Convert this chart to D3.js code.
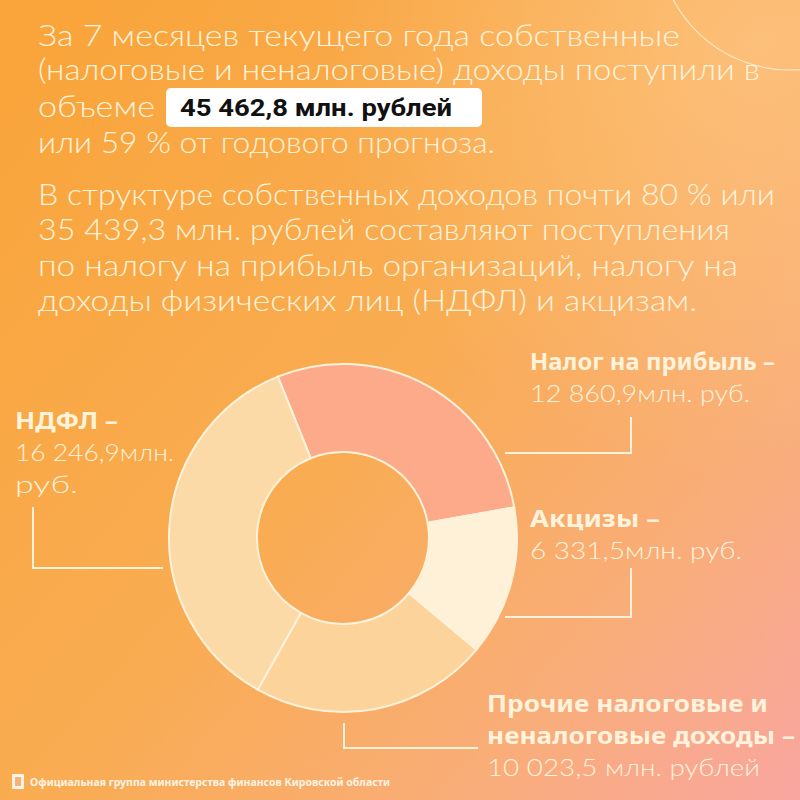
<!DOCTYPE html>
<html>
<head>
<meta charset="utf-8">
<script src="https://cdn.jsdelivr.net/npm/d3@7"></script>
<style>
  html, body { margin: 0; padding: 0; background: #f9a845; }
  svg { display: block; }
</style>
</head>
<body>
<svg id="chart"></svg>
<script>
// Данные
const categories = ["Налог на прибыль", "Акцизы", "Прочие налоговые и неналоговые доходы", "НДФЛ"];
const values = [12860.9, 6331.5, 10023.5, 16246.9];
const sliceColors = ["#fdaa8a", "#fef1d8", "#fcd39a", "#fbdaa8"];

const introLines = [
  "За 7 месяцев текущего года собственные",
  "(налоговые и неналоговые) доходы поступили в",
  "объеме",
  "или 59 % от годового прогноза."
];
const highlight = "45 462,8 млн. рублей";
const structureLines = [
  "В структуре собственных доходов почти 80 % или",
  "35 439,3 млн. рублей составляют поступления",
  "по налогу на прибыль организаций, налогу на",
  "доходы физических лиц (НДФЛ) и акцизам."
];
const labelTitles = [["Налог на прибыль –"], ["Акцизы –"], ["Прочие налоговые и", "неналоговые доходы –"], ["НДФЛ –"]];
const labelValues = [["12 860,9млн. руб."], ["6 331,5млн. руб."], ["10 023,5 млн. рублей"], ["16 246,9млн.", "руб."]];
const footer = "Официальная группа министерства финансов Кировской области";

// Размеры
const width = 800, height = 800;
const cx = 343, cy = 538, outerR = 174, innerR = 86;
const textColor = "#fff3dc";
const lightFont = "Lato, 'Noto Sans', sans-serif";

const svg = d3.select("#chart").attr("width", width).attr("height", height);
const defs = svg.append("defs");

// Фон
const bg = defs.append("linearGradient").attr("id", "bg")
  .attr("x1", 0).attr("y1", 0.15).attr("x2", 1).attr("y2", 1);
bg.append("stop").attr("offset", 0).attr("stop-color", "#f9a53c");
bg.append("stop").attr("offset", 0.45).attr("stop-color", "#f9ac52");
bg.append("stop").attr("offset", 0.75).attr("stop-color", "#f9ad78");
bg.append("stop").attr("offset", 1).attr("stop-color", "#f9a5a0");
svg.append("rect").attr("width", width).attr("height", height).attr("fill", "url(#bg)");

const glow = defs.append("radialGradient").attr("id", "glow")
  .attr("cx", 0.95).attr("cy", 0.05).attr("r", 0.55);
glow.append("stop").attr("offset", 0).attr("stop-color", "#ffcf95").attr("stop-opacity", 0.55);
glow.append("stop").attr("offset", 1).attr("stop-color", "#ffcf95").attr("stop-opacity", 0);
svg.append("rect").attr("width", width).attr("height", height).attr("fill", "url(#glow)");

// декоративная окружность
svg.append("circle").attr("cx", 790).attr("cy", -62).attr("r", 132)
  .attr("fill", "none").attr("stroke", "#fff1dc").attr("stroke-opacity", 0.8).attr("stroke-width", 1.2);

// Верхний текст
const introY = [46, 80, 117, 153];
const introW = [642, 722, 117, 457];
svg.append("g").selectAll("text")
  .data(introLines)
  .join("text")
  .attr("x", 38)
  .attr("y", (d, i) => introY[i])
  .attr("textLength", (d, i) => introW[i])
  .attr("lengthAdjust", "spacingAndGlyphs")
  .attr("font-family", lightFont)
  .attr("font-weight", 300)
  .attr("font-size", 30)
  .attr("fill", textColor)
  .text(d => d);

svg.append("rect").attr("x", 166).attr("y", 88).attr("width", 316).attr("height", 39)
  .attr("rx", 5).attr("fill", "#ffffff");
svg.append("text").attr("x", 180).attr("y", 116)
  .attr("textLength", 272).attr("lengthAdjust", "spacingAndGlyphs")
  .attr("font-family", "Roboto, 'Noto Sans', sans-serif").attr("font-weight", 700)
  .attr("font-size", 23).attr("fill", "#111")
  .text(highlight);

const structY = [205, 240, 276, 311];
const structW = [737, 692, 700, 659];
svg.append("g").selectAll("text")
  .data(structureLines)
  .join("text")
  .attr("x", 38)
  .attr("y", (d, i) => structY[i])
  .attr("textLength", (d, i) => structW[i])
  .attr("lengthAdjust", "spacingAndGlyphs")
  .attr("font-family", lightFont)
  .attr("font-weight", 300)
  .attr("font-size", 30)
  .attr("fill", textColor)
  .text(d => d);

// Кольцевая диаграмма
const pie = d3.pie().sort(null).startAngle(-22 * Math.PI / 180).endAngle(338 * Math.PI / 180);
const arc = d3.arc().innerRadius(innerR).outerRadius(outerR);
const color = d3.scaleOrdinal().domain(categories).range(sliceColors);

const slices = pie(values).map((a, i) => ({ ...a, cat: categories[i] }));
const donut = svg.append("g").attr("transform", `translate(${cx},${cy})`);
donut.selectAll("path")
  .data(slices)
  .join("path")
  .attr("d", arc)
  .attr("fill", d => color(d.cat))
  .attr("stroke", "#fff2da")
  .attr("stroke-width", 2);

// Выноски
const leaders = [
  [[505, 453], [631, 453], [631, 417]],
  [[505, 617], [631, 617], [631, 568]],
  [[478, 748], [344, 748], [344, 723]],
  [[163, 568], [33, 568], [33, 507]]
];
svg.append("g").selectAll("path")
  .data(leaders)
  .join("path")
  .attr("d", d => d3.line()(d))
  .attr("fill", "none")
  .attr("stroke", "#fff2da")
  .attr("stroke-width", 2);

// Подписи
const labelPos = [[530, 370], [530, 527], [487, 712], [15, 429]];
const titleW = [[245], [130], [281, 308], [103]];
const valueW = [[220], [212], [273], [159, 63]];
labelTitles.forEach((lines, i) => {
  const [x, y] = labelPos[i];
  const g = svg.append("g");
  lines.forEach((t, j) => {
    g.append("text").attr("x", x).attr("y", y + j * 32)
      .attr("textLength", titleW[i][j]).attr("lengthAdjust", "spacingAndGlyphs")
      .attr("font-family", "'Noto Sans', Lato, sans-serif").attr("font-weight", 700)
      .attr("font-size", 24).attr("fill", textColor).text(t);
  });
  labelValues[i].forEach((t, j) => {
    g.append("text").attr("x", x).attr("y", y + (lines.length + j) * 32)
      .attr("textLength", valueW[i][j]).attr("lengthAdjust", "spacingAndGlyphs")
      .attr("font-family", lightFont).attr("font-weight", 300)
      .attr("font-size", 24).attr("fill", textColor).text(t);
  });
});

// Подвал
const logo = svg.append("g").attr("fill", "#fff4e4");
logo.append("rect").attr("x", 12).attr("y", 774).attr("width", 12).attr("height", 15).attr("rx", 1);
logo.append("rect").attr("x", 15).attr("y", 777).attr("width", 6).attr("height", 9).attr("fill", "#f7b27c");
svg.append("text").attr("x", 30).attr("y", 786)
  .attr("textLength", 360).attr("lengthAdjust", "spacingAndGlyphs")
  .attr("font-family", "'Noto Sans', sans-serif").attr("font-weight", 700)
  .attr("font-size", 10).attr("fill", "#fff4e4").text(footer);
</script>
</body>
</html>
